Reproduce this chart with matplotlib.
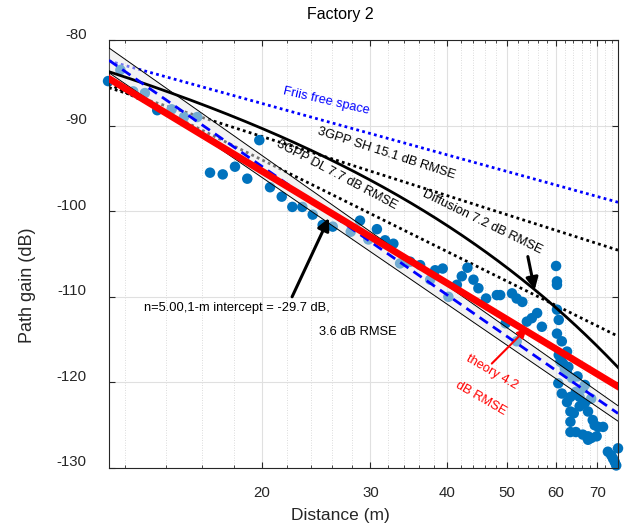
import numpy as np
import matplotlib
matplotlib.use("Agg")
import matplotlib.pyplot as plt
from matplotlib.transforms import ScaledTranslation

plt.rcParams['font.family'] = ['Liberation Sans', 'DejaVu Sans']

# ---------------- data ----------------
dist_m = [11.27, 11.8, 12.38, 12.93, 13.54, 14.29, 14.96, 15.72, 16.49, 17.29,
          18.1, 18.95, 19.82, 20.63, 21.55, 22.42, 23.27, 24.19, 25.11, 26.07,
          27.88, 28.86, 29.78, 30.74, 31.69, 32.69, 33.52, 34.8, 36.12, 37.5,
          38.2, 39.3, 40.14, 41.43, 42.2, 43.1, 44.08, 44.9, 46.2, 48.1,
          48.7, 50.9, 51.8, 52.9, 49.7, 53.8, 54.8, 55.9, 56.9, 51.8,
          60.0, 60.2, 60.2, 60.2, 60.6, 60.2, 61.3, 62.5, 61.1, 61.6,
          62.8, 60.6, 61.0, 62.0, 62.5, 60.5, 61.3, 62.5, 63.3, 64.6,
          65.5, 66.3, 63.7, 65.0, 66.8, 68.4, 65.5, 66.8, 63.3, 64.1,
          67.6, 63.3, 68.8, 69.3, 70.2, 71.5, 63.3, 64.6, 66.3, 67.6,
          68.4, 69.8, 67.6, 72.8, 73.7, 74.2, 74.7, 75.1, 75.6]
gain_db = [-84.8, -83.5, -86.0, -86.2, -88.2, -88.1, -89.0, -89.0, -95.5, -95.7,
           -94.8, -96.2, -91.7, -97.2, -98.3, -99.5, -99.5, -100.4, -101.6, -101.8,
           -102.4, -101.1, -103.3, -102.1, -103.4, -103.8, -106.1, -105.9, -106.3, -108.0,
           -106.9, -106.7, -110.0, -108.6, -107.6, -106.6, -108.0, -109.0, -110.2, -109.8,
           -109.8, -109.6, -110.2, -110.6, -113.1, -112.9, -112.5, -111.9, -113.5, -115.2,
           -106.4, -108.2, -108.6, -111.5, -112.7, -114.3, -115.2, -116.4, -117.4, -117.8,
           -118.2, -116.8, -117.6, -118.4, -118.9, -120.1, -121.3, -122.3, -121.7, -121.1,
           -121.7, -120.7, -119.5, -119.3, -120.3, -121.9, -122.8, -122.4, -123.4, -123.6,
           -123.4, -124.6, -124.4, -125.0, -125.2, -125.2, -125.8, -125.8, -126.1, -126.3,
           -126.5, -126.3, -126.7, -128.1, -128.5, -128.9, -129.3, -129.7, -127.7]

# model parameters (intercept dB, path loss exponent)
fit_model = (-29.7, 5.00)
band_upper = (-27.56, 5.066)
band_lower = (-31.86, 4.933)
theory_model = (-38.58, 4.36)
friis_fc_ghz = 28.0
sh_3gpp = (32.4, 23.0)   # PL = a + b log10(d) + 20 log10(fc)
dl_3gpp = (18.6, 35.7)
diffusion_model = (-64.66, 14.28, 0.354)  # a - b log10(d) - c d

x_ticks = [20, 30, 40, 50, 60, 70]
x_minor = [12, 14, 16, 18, 22, 24, 26, 28, 32, 34, 36, 38, 42, 44, 46, 48,
           52, 54, 56, 58, 62, 64, 66, 68, 72, 74]
y_ticks = [-130, -120, -110, -100, -90, -80]
x_lim = (11.31, 75.6)
y_lim = (-130, -80)

# ---------------- figure ----------------
fig = plt.figure(figsize=(6.37, 5.27), dpi=100)
ax = fig.add_axes([109/637, 1-468/527, (618-109)/637, (468-40)/527])
ax.set_xscale('log')

d = np.geomspace(x_lim[0], x_lim[1], 400)
L = np.log10(d)

def loglin(p):
    return p[0] - 10*p[1]*L

fspl1m = 20*np.log10(4*np.pi*friis_fc_ghz*1e9/3e8)
friis = -fspl1m - 20*L
sh = -(sh_3gpp[0] + sh_3gpp[1]*L + 20*np.log10(friis_fc_ghz))
dl = -(dl_3gpp[0] + dl_3gpp[1]*L + 20*np.log10(friis_fc_ghz))
diff = diffusion_model[0] - diffusion_model[1]*L - diffusion_model[2]*d

ax.plot(d, friis, color=(0, 0, 1), lw=2, ls=(0, (1, 1.2)), zorder=2)
ax.plot(d, sh, color='k', lw=2, ls=(0, (1, 1.2)), zorder=2)
ax.plot(d, dl, color='k', lw=2, ls=(0, (1, 1.2)), zorder=2)
ax.scatter(dist_m, gain_db, s=57, color='#0072BD', edgecolors='none', zorder=2.5, clip_on=False)

up = loglin(band_upper)
lo = loglin(band_lower)
ax.fill_between(d, lo, up, color='#e8e8e8', alpha=0.5, lw=0, zorder=3)
ax.plot(d, up, color='k', lw=0.7, zorder=4)
ax.plot(d, lo, color='k', lw=0.7, zorder=4)
ax.plot(d, diff, color='k', lw=2, zorder=4)
ax.plot(d, loglin(fit_model), color=(0, 0, 1), lw=2, ls=(0, (3.6, 2.2)), zorder=5)
ax.plot(d, loglin(theory_model), color=(1, 0, 0), lw=5, zorder=6)

# annotations
tkw = dict(fontsize=9.3, ha='center', va='center', rotation_mode='anchor')
ax.text(25.43, -87.1, 'Friis free space', color=(0, 0, 1), rotation=-13, **tkw)
ax.text(31.8, -93.3, '3GPP SH 15.1 dB RMSE', color='k', rotation=-18, **tkw)
ax.text(26.5, -95.8, '3GPP DL 7.7 dB RMSE', color='k', rotation=-28, **tkw)
ax.text(45.5, -101.3, 'Diffusion 7.2 dB RMSE', color='k', rotation=-26, **tkw)
ax.text(18.24, -111.3, 'n=5.00,1-m intercept = -29.7 dB,', color='k', **tkw)
ax.text(28.66, -114.1, '3.6 dB RMSE', color='k', **tkw)
ax.text(47.3, -118.8, 'theory 4.2', color=(1, 0, 0), rotation=-30, **tkw)
ax.text(45.3, -121.9, 'dB RMSE', color=(1, 0, 0), rotation=-30, **tkw)

ax.annotate('', xy=(25.7, -100.8), xytext=(22.4, -110.0),
            arrowprops=dict(arrowstyle='-|>', color='k', lw=2.2, mutation_scale=18,
                            shrinkA=0, shrinkB=0), zorder=7)
ax.annotate('', xy=(55.4, -109.2), xytext=(54.0, -105.3),
            arrowprops=dict(arrowstyle='-|>', color='k', lw=2.2, mutation_scale=18,
                            shrinkA=0, shrinkB=0), zorder=7)
ax.annotate('', xy=(53.8, -113.7), xytext=(47.2, -117.8),
            arrowprops=dict(arrowstyle='-|>', color=(1, 0, 0), lw=1.5, mutation_scale=14,
                            shrinkA=0, shrinkB=0), zorder=7)

# axes styling
ax.set_xlim(*x_lim)
ax.set_ylim(*y_lim)
ax.set_xticks(x_ticks)
ax.set_xticklabels([str(t) for t in x_ticks])
ax.set_xticks(x_minor, minor=True)
ax.set_xticklabels([], minor=True)
ax.set_yticks(y_ticks)
ax.set_yticklabels([str(t) for t in y_ticks])

axc = '#262626'
for s in ax.spines.values():
    s.set_color(axc)
    s.set_linewidth(0.8)
ax.tick_params(which='both', direction='in', top=True, right=True, colors=axc,
               labelsize=10.8, labelcolor=axc)
ax.tick_params(axis='x', which='major', length=4, pad=13)
ax.tick_params(axis='x', which='minor', length=2.5)
ax.tick_params(axis='y', which='major', length=4, pad=16)
ax.grid(True, which='major', color='#e0e0e0', lw=0.8, zorder=0)
ax.grid(True, which='minor', axis='x', color='#d0d0d0', lw=0.6, ls=(0, (1, 2)), zorder=0)
ax.set_axisbelow(True)

off = ScaledTranslation(0, 7/100, fig.dpi_scale_trans)
for lab in ax.get_yticklabels():
    lab.set_transform(lab.get_transform() + off)

ax.set_xlabel('Distance (m)', fontsize=12.5, color=axc)
ax.set_ylabel('Path gain (dB)', fontsize=13, color=axc)
ax.xaxis.set_label_coords((340-109)/509, (468-508)/428)
ax.yaxis.set_label_coords((36-109)/509, (468-285)/428)
ax.set_title('Factory 2', fontsize=11.5, color='k', x=(340-109)/509, pad=15)

fig.savefig('out.png', dpi=100)
